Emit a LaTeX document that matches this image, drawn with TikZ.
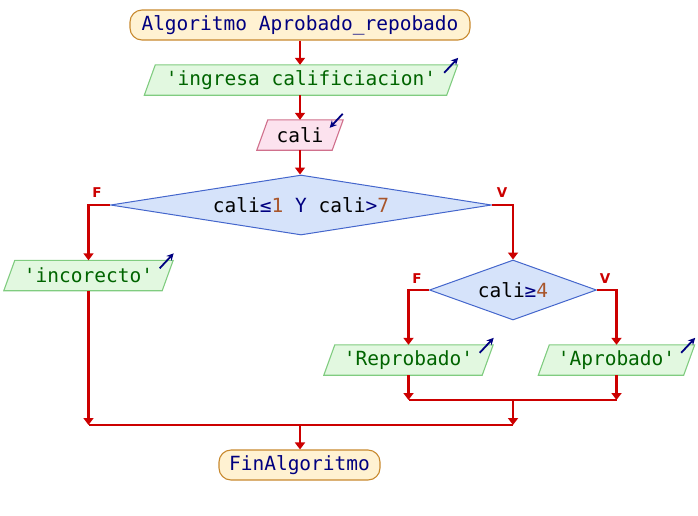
\documentclass[tikz,border=0pt]{standalone}
\usepackage{fontspec}
\newfontfamily\monofnt{DejaVu Sans Mono}
\newfontfamily\lblfnt{DejaVu Sans}
\usetikzlibrary{shapes.geometric,arrows.meta,backgrounds}
\definecolor{termfill}{HTML}{FFF2D2}
\definecolor{termdraw}{HTML}{C8892E}
\definecolor{outfill}{HTML}{E2F8E0}
\definecolor{outdraw}{HTML}{80CC80}
\definecolor{infill}{HTML}{FCE2EE}
\definecolor{indraw}{HTML}{D0708C}
\definecolor{decfill}{HTML}{D6E3FA}
\definecolor{decdraw}{HTML}{4466CC}
\definecolor{flow}{HTML}{CC0000}
\definecolor{navy}{HTML}{000080}
\definecolor{strgreen}{HTML}{006400}
\definecolor{numbrown}{HTML}{A8552A}
\newcommand\parashape[3]{\path[fill=#2,draw=#3,line width=1.1pt] ([xshift=5.5pt]#1.north west) -- ([xshift=5.5pt]#1.north east) -- ([xshift=-5.5pt]#1.south east) -- ([xshift=-5.5pt]#1.south west) -- cycle;}
\newcommand\outicon[1]{\draw[navy,line width=1.8pt,-{Stealth[length=7pt,width=7pt]}] ([xshift=-8pt,yshift=-8pt]#1.north east) -- ([xshift=6pt,yshift=7pt]#1.north east);}
\newcommand\inicon[1]{\draw[navy,line width=1.8pt,-{Stealth[length=7pt,width=7pt]}] ([xshift=5pt,yshift=6pt]#1.north east) -- ([xshift=-8pt,yshift=-8pt]#1.north east);}
\begin{document}
\begin{tikzpicture}[x=1pt,y=-1pt,
  txt/.style={font=\monofnt\fontsize{19.5}{22}\selectfont},
  term/.style={txt, rectangle, rounded corners=12pt, draw=termdraw, fill=termfill, line width=1.1pt, minimum height=30pt, inner sep=0pt, text=navy},
  para/.style={txt, rectangle, minimum height=30pt, inner sep=0pt, text=strgreen},
  dec/.style={txt, diamond, draw=decdraw, fill=decfill, line width=1pt, inner sep=0pt},
  arr/.style={draw=flow, line width=2.3pt, -{Triangle[length=7pt,width=10pt]}},
  ln/.style={draw=flow, line width=2.3pt},
  fv/.style={text=flow, font=\lblfnt\bfseries\fontsize{13.5}{15}\selectfont, inner sep=0pt}]
\useasboundingbox (0,0) rectangle (698,515);

\node[term, minimum width=340pt] (start) at (300,25) {Algoritmo Aprobado\_repobado};
\node[para, minimum width=302pt] (out1) at (301,80) {'ingresa calificiacion'};
\node[para, minimum width=75pt, text=black] (in1) at (300,135) {cali};
\node[dec, aspect=6.35, minimum width=381pt, minimum height=60pt] (d1) at (301,205)
  {cali\textcolor{navy}{≤}\textcolor{numbrown}{1} \textcolor{navy}{Y} cali\textcolor{navy}{>}\textcolor{numbrown}{7}};
\node[para, minimum width=158pt] (inc) at (88.5,275.5) {'incorecto'};
\node[dec, aspect=2.78, minimum width=167pt, minimum height=60pt] (d2) at (513,290)
  {cali\textcolor{navy}{≥}\textcolor{numbrown}{4}};
\node[para, minimum width=158pt] (rep) at (408.5,360) {'Reprobado'};
\node[para, minimum width=145pt] (apr) at (616.5,360) {'Aprobado'};
\node[term, minimum width=161pt] (fin) at (299.5,465) {FinAlgoritmo};

\begin{scope}[on background layer]
\parashape{out1}{outfill}{outdraw}
\parashape{in1}{infill}{indraw}
\parashape{inc}{outfill}{outdraw}
\parashape{rep}{outfill}{outdraw}
\parashape{apr}{outfill}{outdraw}
\end{scope}

\outicon{out1}
\inicon{in1}
\outicon{inc}
\outicon{rep}
\outicon{apr}

\node[fv] (f1) at (97,193) {F};
\node[fv] (v1) at (502,193) {V};
\node[fv] (f2) at (417,279) {F};
\node[fv] (v2) at (605,279) {V};

\coordinate (m2) at (513,400);
\coordinate (m1) at (513,425);
\coordinate (m0) at (300,425);

\draw[arr] (start.south) -- (start.south |- out1.north);
\draw[arr] (start.south |- out1.south) -- (start.south |- in1.north);
\draw[arr] (in1.south) -- (in1.south |- d1.north);
\draw[arr] (d1.west) -| (inc.north);
\draw[arr] (d1.east) -| (d2.north);
\draw[arr] (d2.west) -| (rep.north);
\draw[arr] (d2.east) -| (apr.north);
\draw[arr] (rep.south) -- (rep.south |- m2);
\draw[arr] (apr.south) -- (apr.south |- m2);
\draw[ln] (rep.south |- m2) -- (apr.south |- m2);
\draw[arr] (m2) -- (m1);
\draw[arr] (inc.south) -- (inc.south |- m1);
\draw[ln] (inc.south |- m1) -- (m1);
\draw[arr] (m0) -- (m0 |- fin.north);
\end{tikzpicture}
\end{document}
